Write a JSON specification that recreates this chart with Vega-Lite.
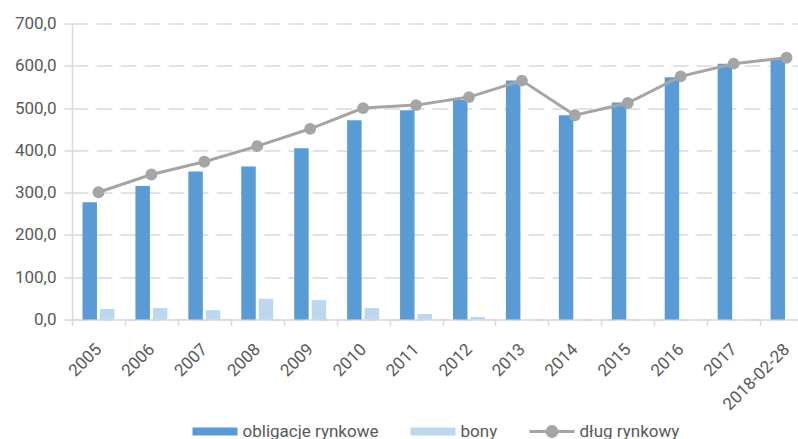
{
  "$schema": "https://vega.github.io/schema/vega-lite/v6.json",
  "width": 726,
  "height": 296,
  "autosize": {"type": "none"},
  "padding": {"left": 72, "top": 23.5, "right": 0, "bottom": 119.5},
  "background": "white",
  "data": {
    "values": [
      {"cat": "2005", "series": "obligacje rynkowe", "value": 277},
      {"cat": "2006", "series": "obligacje rynkowe", "value": 316},
      {"cat": "2007", "series": "obligacje rynkowe", "value": 350},
      {"cat": "2008", "series": "obligacje rynkowe", "value": 362},
      {"cat": "2009", "series": "obligacje rynkowe", "value": 405},
      {"cat": "2010", "series": "obligacje rynkowe", "value": 471},
      {"cat": "2011", "series": "obligacje rynkowe", "value": 495},
      {"cat": "2012", "series": "obligacje rynkowe", "value": 519},
      {"cat": "2013", "series": "obligacje rynkowe", "value": 565},
      {"cat": "2014", "series": "obligacje rynkowe", "value": 483},
      {"cat": "2015", "series": "obligacje rynkowe", "value": 513},
      {"cat": "2016", "series": "obligacje rynkowe", "value": 573},
      {"cat": "2017", "series": "obligacje rynkowe", "value": 605},
      {"cat": "2018-02-28", "series": "obligacje rynkowe", "value": 617},
      {"cat": "2005", "series": "bony", "value": 25},
      {"cat": "2006", "series": "bony", "value": 27},
      {"cat": "2007", "series": "bony", "value": 22},
      {"cat": "2008", "series": "bony", "value": 49},
      {"cat": "2009", "series": "bony", "value": 46},
      {"cat": "2010", "series": "bony", "value": 27},
      {"cat": "2011", "series": "bony", "value": 13},
      {"cat": "2012", "series": "bony", "value": 6},
      {"cat": "2005", "series": "dług rynkowy", "value": 301},
      {"cat": "2006", "series": "dług rynkowy", "value": 343},
      {"cat": "2007", "series": "dług rynkowy", "value": 373},
      {"cat": "2008", "series": "dług rynkowy", "value": 410},
      {"cat": "2009", "series": "dług rynkowy", "value": 451},
      {"cat": "2010", "series": "dług rynkowy", "value": 500},
      {"cat": "2011", "series": "dług rynkowy", "value": 507},
      {"cat": "2012", "series": "dług rynkowy", "value": 526},
      {"cat": "2013", "series": "dług rynkowy", "value": 565},
      {"cat": "2014", "series": "dług rynkowy", "value": 483},
      {"cat": "2015", "series": "dług rynkowy", "value": 512},
      {"cat": "2016", "series": "dług rynkowy", "value": 575},
      {"cat": "2017", "series": "dług rynkowy", "value": 605},
      {"cat": "2018-02-28", "series": "dług rynkowy", "value": 619}
    ]
  },
  "config": {
    "font": "Roboto",
    "view": {"stroke": null},
    "axis": {
      "labelFont": "Roboto",
      "labelFontSize": 17,
      "labelColor": "#595959",
      "title": null,
      "domainColor": "#D9D9D9",
      "domainWidth": 1.5,
      "tickColor": "#D9D9D9",
      "tickWidth": 1.5
    },
    "legend": {
      "labelFont": "Roboto",
      "labelFontSize": 17,
      "labelColor": "#595959",
      "layout": {"bottom": {"anchor": "middle"}}
    }
  },
  "encoding": {
    "x": {
      "field": "cat",
      "type": "nominal",
      "sort": null,
      "scale": {"range": [0, 741], "paddingInner": 0, "paddingOuter": 0},
      "axis": {
        "title": null,
        "tickBand": "extent",
        "tickSize": 6,
        "labelAngle": -45,
        "labelAlign": "right",
        "labelBaseline": "middle",
        "labelPadding": 21,
        "grid": false
      }
    },
    "y": {
      "field": "value",
      "type": "quantitative",
      "scale": {"domain": [0, 700], "nice": false},
      "axis": {
        "title": null,
        "values": [0, 100, 200, 300, 400, 500, 600, 700],
        "labelExpr": "replace(format(datum.value, '.1f'), '.', ',')",
        "tickSize": 8,
        "labelPadding": 8,
        "grid": true,
        "gridColor": "#D9D9D9",
        "gridWidth": 1.5,
        "gridDash": [16, 8]
      }
    },
    "color": {
      "field": "series",
      "type": "nominal",
      "scale": {
        "domain": ["obligacje rynkowe", "bony", "dług rynkowy"],
        "range": ["#5B9BD5", "#BDD7EE", "#A5A5A5"]
      },
      "legend": {
        "orient": "bottom",
        "direction": "horizontal",
        "title": null,
        "symbolSize": 2025,
        "symbolStrokeWidth": 3,
        "clipHeight": 20,
        "labelOffset": 3.5,
        "columnPadding": 30,
        "offset": 7.5,
        "encode": {
          "symbols": {
            "update": {
              "shape": {"signal": "datum.value === 'dług rynkowy' ? 'M-1,0H1M0.22,0A0.22,0.22,0,1,1,-0.22,0A0.22,0.22,0,1,1,0.22,0' : 'M-1,-0.178H1V0.178H-1Z'"},
              "size": {"value": 2025},
              "strokeWidth": {"value": 3},
              "fill": {"scale": "color", "field": "value"},
              "stroke": {"scale": "color", "field": "value"},
              "strokeOpacity": {"signal": "datum.value === 'dług rynkowy' ? 1 : 0"},
              "opacity": {"value": 1}
            }
          }
        }
      }
    }
  },
  "layer": [
    {
      "transform": [{"filter": "datum.series !== 'dług rynkowy'"}],
      "mark": {"type": "bar"},
      "encoding": {
        "xOffset": {
          "field": "series",
          "type": "nominal",
          "sort": ["obligacje rynkowe", "bony"],
          "scale": {"paddingInner": 0.17, "paddingOuter": 0.6}
        }
      }
    },
    {
      "transform": [{"filter": "datum.series === 'dług rynkowy'"}],
      "mark": {"type": "line", "strokeWidth": 3, "point": {"filled": true, "size": 140, "opacity": 1}}
    }
  ]
}
